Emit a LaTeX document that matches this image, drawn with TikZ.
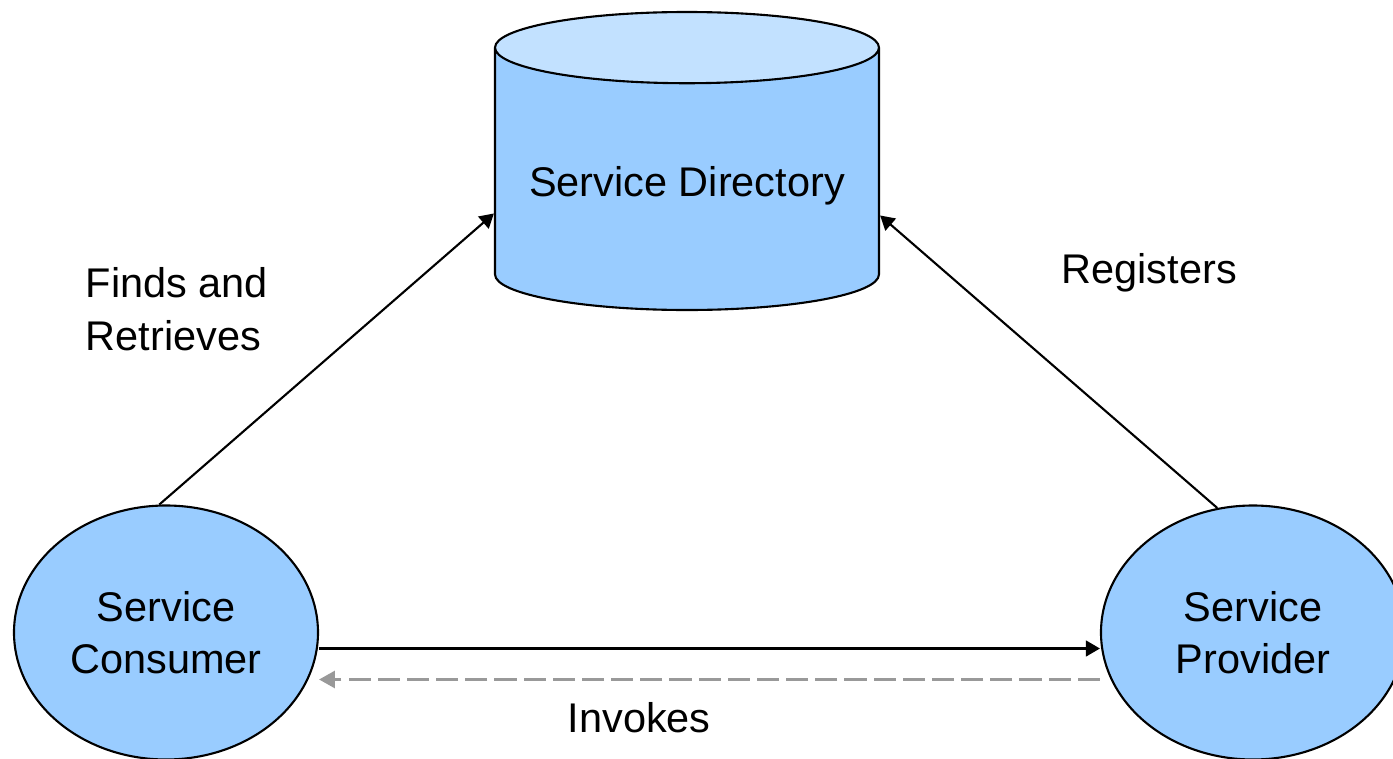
\documentclass[tikz,border=0pt]{standalone}
\usepackage{fontspec}
\setmainfont{Liberation Sans}
\usetikzlibrary{arrows.meta, shapes.geometric, calc}
\definecolor{svcblue}{HTML}{99CCFF}
\definecolor{svctop}{HTML}{C2E1FF}
\definecolor{svcgrey}{HTML}{999999}

\begin{document}
\begin{tikzpicture}[
    punkt/.style = {ellipse, draw, line width=0.6pt, fill=svcblue,
                    minimum width=3.04cm, minimum height=2.54cm, align=center},
    dbase/.style = {cylinder, draw, line width=0.6pt, shape border rotate=90,
                    aspect=0.21, minimum width=3.84cm, minimum height=2.98cm,
                    cylinder uses custom fill, cylinder body fill=svcblue,
                    cylinder end fill=svctop},
    merk/.style = {inner sep=0pt, align=left},
    pil/.style = {black, line width=0.6pt, -{Triangle[length=4pt, width=4.5pt]}},
    retur/.style = {svcgrey, line width=0.85pt, dash pattern=on 6.3pt off 2pt,
                    -{Triangle[length=4.5pt, width=4.8pt]}},
    font=\fontsize{11.8}{14.8}\selectfont
    ]
  \useasboundingbox (0,0) rectangle (13.93,-7.59);

  \node[dbase, anchor=shape center] (directory) at (6.87,-1.61) {Service Directory} ;
  \node[punkt] (consumer) at (1.66,-6.325) {Service\\Consumer} ;
  \node[punkt] (provider) at (12.53,-6.325) {Service\\Provider} ;

  \node[merk, anchor=base west] (finds) at (0.85,-3.50) {Finds and\\Retrieves} ;
  \node[merk, anchor=base west] (registers) at (10.61,-2.83) {Registers} ;
  \node[merk, anchor=base west] (invokes) at (5.67,-7.32) {Invokes} ;

  \draw[pil] (consumer.93) -- ($(directory.west)+(0,-0.28)$) ;
  \draw[pil] (provider.106) -- ($(directory.east)+(0,-0.30)$) ;
  \draw[pil] ($(consumer.east)+(0,-0.16)$) -- ($(provider.west)+(0,-0.16)$) ;
  \draw[retur] ($(provider.west)+(0,-0.47)$) -- ($(consumer.east)+(0,-0.47)$) ;
\end{tikzpicture}
\end{document}
